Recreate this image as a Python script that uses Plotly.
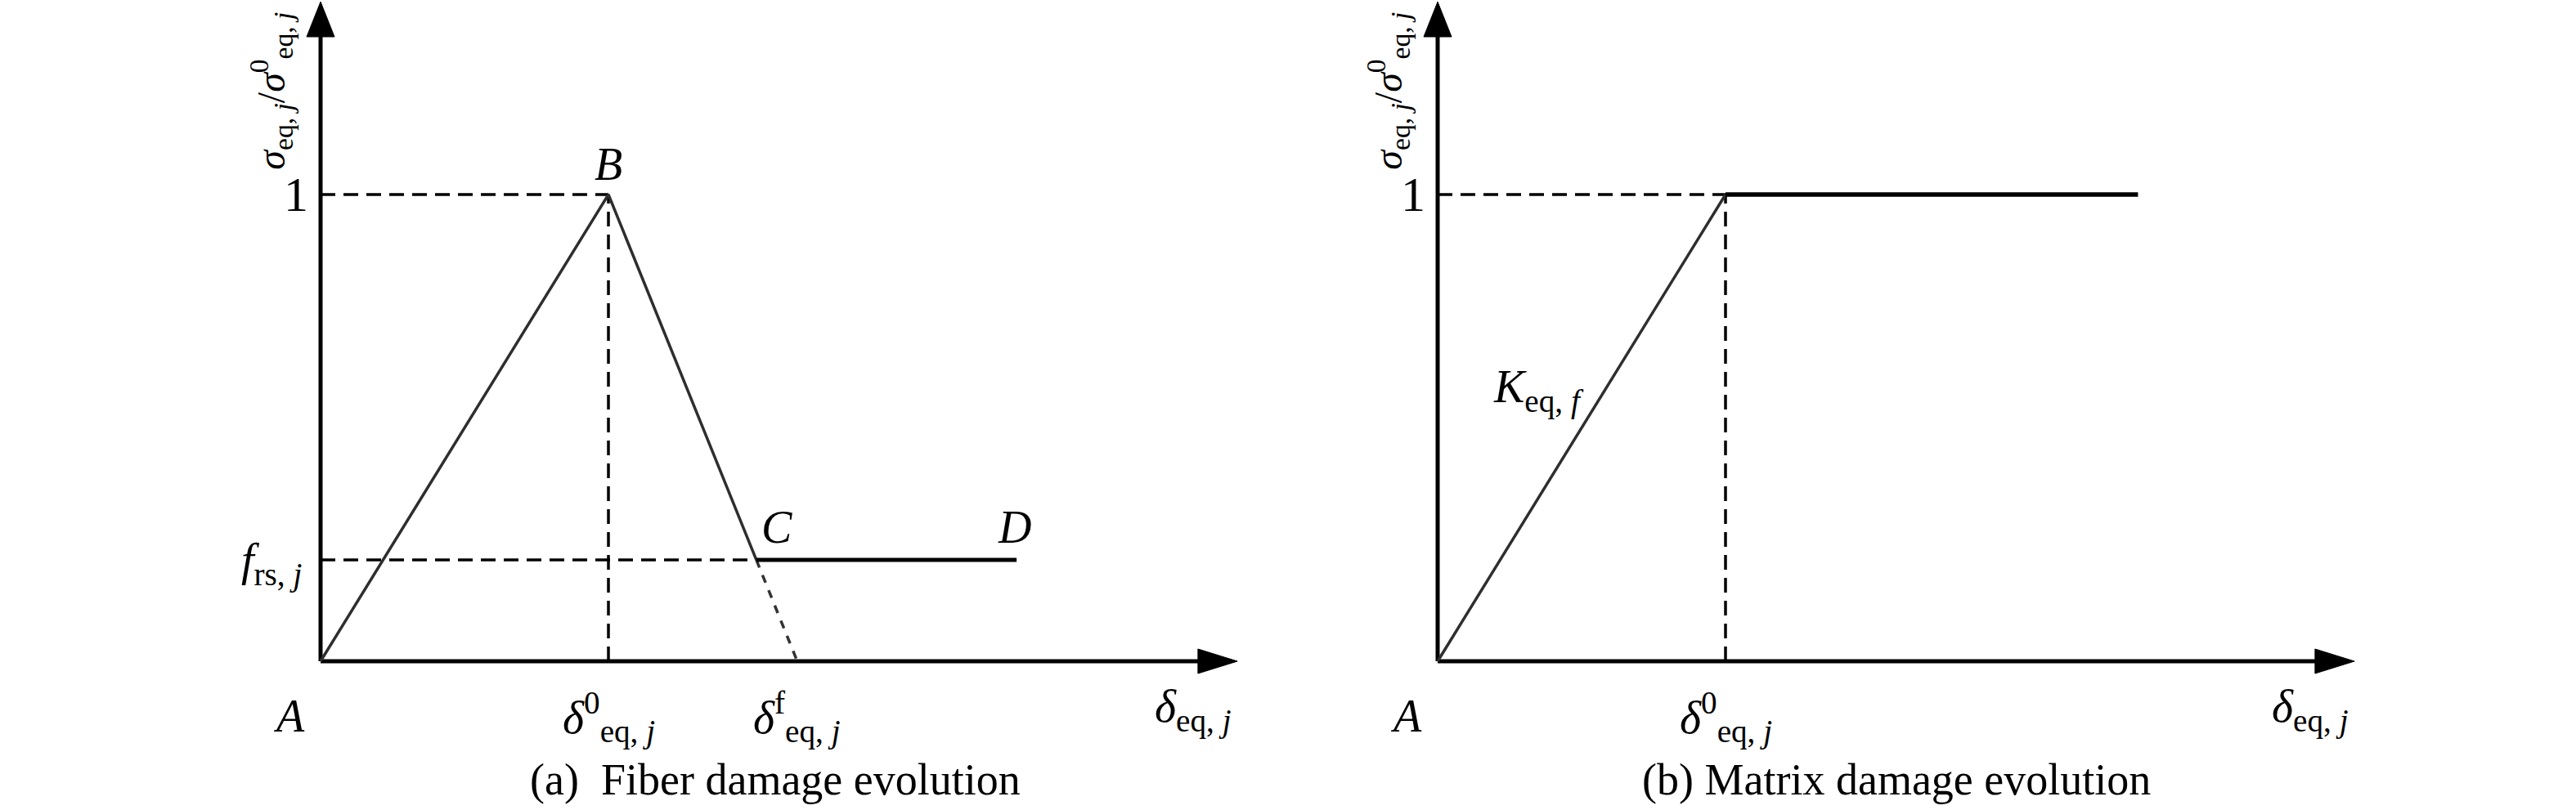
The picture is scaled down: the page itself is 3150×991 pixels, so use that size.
import plotly.graph_objects as go

# ---------------- data (normalised units: delta0 = 1, sigma0 = 1) ----------------
# panel (a) fibre damage evolution
a_names = ["A", "B", "C", "D"]
a_x = [0.0, 1.0, 1.514, 2.418]
a_y = [0.0, 1.0, 0.217, 0.217]
a_delta_f = 1.656          # softening line hits zero
f_rs = 0.217

# panel (b) matrix damage evolution
b_x = [0.0, 1.0, 2.433]
b_y = [0.0, 1.0, 1.0]

x_axis_end = 3.185
y_axis_end = 1.413

# ---------------- layout geometry ----------------
W, H = 3150, 991
PX_X = 352.0     # px per x unit
PX_Y = 571.0     # px per y unit
ORIG_A = (392, 809)
ORIG_B = (1758, 809)
SPLIT = 1575

FONT = "Liberation Serif"
BLK = "#000000"
LINE = "#2e2e2e"

fig = go.Figure()


def add_panel(xa, ya):
    # axes lines
    fig.add_trace(go.Scatter(x=[0, x_axis_end - 0.13], y=[0, 0], mode="lines",
                             line=dict(color=BLK, width=5), xaxis=xa, yaxis=ya, hoverinfo="skip"))
    fig.add_trace(go.Scatter(x=[0, 0], y=[0, y_axis_end - 0.07], mode="lines",
                             line=dict(color=BLK, width=5), xaxis=xa, yaxis=ya, hoverinfo="skip"))
    # arrow heads
    hx = 15.0 / PX_Y
    fig.add_trace(go.Scatter(x=[x_axis_end - 0.137, x_axis_end, x_axis_end - 0.137, x_axis_end - 0.137],
                             y=[-hx, 0, hx, -hx], mode="lines", fill="toself", fillcolor=BLK,
                             line=dict(color=BLK, width=1), xaxis=xa, yaxis=ya, hoverinfo="skip"))
    hy = 17.0 / PX_X
    fig.add_trace(go.Scatter(x=[-hy, 0, hy, -hy],
                             y=[y_axis_end - 0.075, y_axis_end, y_axis_end - 0.075, y_axis_end - 0.075],
                             mode="lines", fill="toself", fillcolor=BLK,
                             line=dict(color=BLK, width=1), xaxis=xa, yaxis=ya, hoverinfo="skip"))


add_panel("x", "y")
add_panel("x2", "y2")

dash = "18px,10px"

# ---- panel (a) ----
fig.add_trace(go.Scatter(x=[0, a_x[1]], y=[1, 1], mode="lines",
                         line=dict(color=BLK, width=3.5, dash=dash), xaxis="x", yaxis="y"))
fig.add_trace(go.Scatter(x=[a_x[1], a_x[1]], y=[0, 1], mode="lines",
                         line=dict(color=BLK, width=3.5, dash=dash), xaxis="x", yaxis="y"))
fig.add_trace(go.Scatter(x=[0, a_x[2]], y=[f_rs, f_rs], mode="lines",
                         line=dict(color=BLK, width=3.5, dash=dash), xaxis="x", yaxis="y"))
fig.add_trace(go.Scatter(x=[a_x[2], a_delta_f], y=[f_rs, 0], mode="lines",
                         line=dict(color="#333333", width=3.5, dash="10px,10px"), xaxis="x", yaxis="y"))
fig.add_trace(go.Scatter(x=a_x[:3], y=a_y[:3], mode="lines",
                         line=dict(color=LINE, width=3.5), xaxis="x", yaxis="y"))
fig.add_trace(go.Scatter(x=a_x[2:], y=a_y[2:], mode="lines",
                         line=dict(color=BLK, width=5), xaxis="x", yaxis="y"))

# ---- panel (b) ----
fig.add_trace(go.Scatter(x=[0, b_x[1]], y=[1, 1], mode="lines",
                         line=dict(color=BLK, width=3.5, dash=dash), xaxis="x2", yaxis="y2"))
fig.add_trace(go.Scatter(x=[b_x[1], b_x[1]], y=[0, 1], mode="lines",
                         line=dict(color=BLK, width=3.5, dash=dash), xaxis="x2", yaxis="y2"))
fig.add_trace(go.Scatter(x=b_x[:2], y=b_y[:2], mode="lines",
                         line=dict(color=LINE, width=3.5), xaxis="x2", yaxis="y2"))
fig.add_trace(go.Scatter(x=b_x[1:], y=b_y[1:], mode="lines",
                         line=dict(color=BLK, width=5.5), xaxis="x2", yaxis="y2"))

# ---------------- text ----------------
ann = []


def t(text, x, y, xr, yr, size=56, angle=0, xanchor="center"):
    ann.append(dict(text=text, x=x, y=y, xref=xr, yref=yr, showarrow=False,
                    font=dict(family=FONT, size=size, color=BLK), textangle=angle,
                    xanchor=xanchor, yanchor="middle"))


ylab = "<i>σ</i><sub>eq, <i>j</i></sub>/<i>σ</i><sup>0</sup><sub>eq, <i>j</i></sub>"
dlab = "<i>δ</i><sub>eq, <i>j</i></sub>"
d0lab = "<i>δ</i><sup>0</sup><sub>eq, <i>j</i></sub>"
dflab = "<i>δ</i><sup>f</sup><sub>eq, <i>j</i></sub>"

for xr, yr in [("x", "y"), ("x2", "y2")]:
    t(ylab, -0.172, 1.222, xr, yr, size=48, angle=-90)
    t("1", -0.085, 1.0, xr, yr, size=60)
    t("<i>A</i>", -0.11, -0.118, xr, yr)
    t(d0lab, 1.0, -0.12, xr, yr)
    t(dlab, 3.03, -0.105, xr, yr)

t("<i>B</i>", 1.0, 1.065, "x", "y")
t("<i>C</i>", 1.585, 0.287, "x", "y")
t("<i>D</i>", 2.41, 0.287, "x", "y")
t("<i>f</i><sub>rs, <i>j</i></sub>", -0.17, 0.21, "x", "y")
t(dflab, 1.656, -0.12, "x", "y")
t("(a)  Fiber damage evolution", 1.58, (809 - 954) / PX_Y, "x", "y", size=54)

t("<i>K</i><sub>eq, <i>f</i></sub>", 0.35, 0.58, "x2", "y2")
t("(b) Matrix damage evolution", 1.595, (809 - 954) / PX_Y, "x2", "y2", size=54)

# ---------------- axes ----------------
def xr_for(orig, left, right):
    return [(left - orig) / PX_X, (right - orig) / PX_X]


yrange = [(ORIG_A[1] - H) / PX_Y, ORIG_A[1] / PX_Y]

fig.update_layout(
    width=W, height=H,
    margin=dict(l=0, r=0, t=0, b=0),
    paper_bgcolor="white", plot_bgcolor="white",
    showlegend=False,
    annotations=ann,
    xaxis=dict(domain=[0, SPLIT / W], range=xr_for(ORIG_A[0], 0, SPLIT), visible=False, fixedrange=True),
    yaxis=dict(domain=[0, 1], range=yrange, visible=False, fixedrange=True),
    xaxis2=dict(domain=[SPLIT / W, 1], range=xr_for(ORIG_B[0], SPLIT, W), visible=False, fixedrange=True),
    yaxis2=dict(domain=[0, 1], range=yrange, visible=False, anchor="x2", fixedrange=True),
)

fig.write_html("out.html", config={"displayModeBar": False},
               post_script="document.body.style.margin='0px';")
